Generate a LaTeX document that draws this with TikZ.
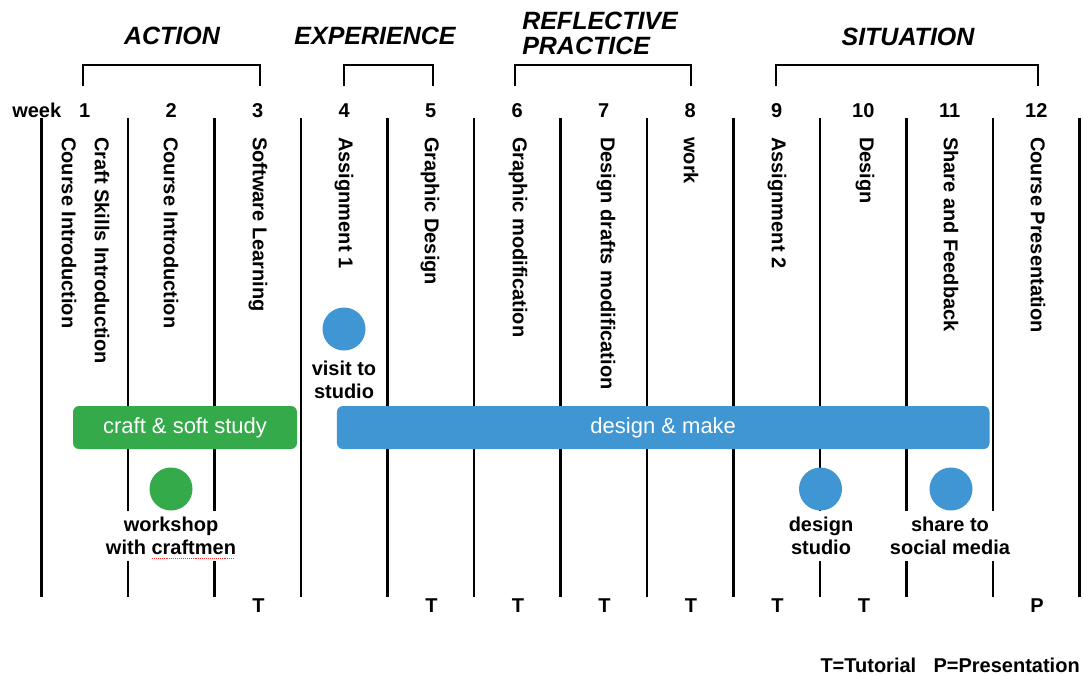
\documentclass[tikz,border=0pt]{standalone}
\usepackage{fontspec}
\setmainfont{Liberation Sans}
\usetikzlibrary{decorations.pathmorphing}
\definecolor{planblue}{HTML}{3F96D3}
\definecolor{plangreen}{HTML}{35AA4A}

\begin{document}
\begin{tikzpicture}[x=0.75pt,y=-0.75pt,
  gridline/.style={line width=1.9pt, black},
  bracket/.style={line width=1.6pt, black},
  phase/.style={font=\fontsize{18.75}{21}\selectfont\bfseries\itshape, inner sep=0},
  wk/.style={font=\fontsize{15}{17}\selectfont\bfseries, inner sep=0},
  topic/.style={font=\fontsize{15}{17}\selectfont\bfseries, rotate=-90, anchor=west, inner sep=0},
  bar/.style={rounded corners=4.5pt, inner sep=0, text=white,
    font=\fontsize{16.5}{18}\selectfont, minimum height=32.25pt},
  event/.style={circle, inner sep=0, minimum size=32.25pt},
  evlabel/.style={fill=white, align=center, inner xsep=2pt, inner ysep=4.6pt,
    font=\fontsize{15}{17.25}\selectfont\bfseries},
  tpmark/.style={font=\fontsize{15}{17}\selectfont\bfseries, inner sep=0}
]
\useasboundingbox (0,0) rectangle (1083,675);

% week grid
\foreach \k in {0,...,12}
  \draw[gridline] (41.5+86.5*\k,118) -- (41.5+86.5*\k,597);

% phase headings and brackets
\node[phase] (action) at (172,36) {ACTION};
\node[phase] (experience) at (375,36) {EXPERIENCE};
\node[phase, anchor=west, align=left] (reflective) at (522,33.5)
  {REFLECTIVE\\[-2.5pt]PRACTICE};
\node[phase] (situation) at (908,37) {SITUATION};

\draw[bracket] (83,86) -- (83,65) -- (260,65) -- (260,86);
\draw[bracket] (344,86) -- (344,65) -- (433,65) -- (433,86);
\draw[bracket] (515,86) -- (515,65) -- (691,65) -- (691,86);
\draw[bracket] (776,86) -- (776,65) -- (1038,65) -- (1038,86);

% week numbers
\node[wk, anchor=base west] (week) at (12,117) {week};
\foreach \k in {1,...,12}
  \node[wk, anchor=base] (w\k) at (84.75+86.5*\k-86.5,117) {\k};

% weekly topics
\node[topic] (t1a) at (69,137) {Course Introduction};
\node[topic] (t1b) at (102,137) {Craft Skills Introduction};
\node[topic] (t2) at (171,137) {Course Introduction};
\node[topic] (t3) at (258,137) {Software Learning};
\node[topic] (t4) at (344,137) {Assignment 1};
\node[topic] (t5) at (430,137) {Graphic Design};
\node[topic] (t6) at (518,137) {Graphic modification};
\node[topic] (t7) at (606,137) {Design drafts modification};
\node[topic] (t8) at (691,137) {work};
\node[topic] (t9) at (777,137) {Assignment 2};
\node[topic] (t10) at (865,137) {Design};
\node[topic] (t11) at (951,137) {Share and Feedback};
\node[topic] (t12) at (1038,137) {Course Presentation};

% activity bars
\node[bar, fill=plangreen, minimum width=168pt] (craft) at (185,427.5) {craft \& soft study};
\node[bar, fill=planblue, minimum width=489.4pt] (make) at (663.25,427.5) {design \& make};

% events
\node[event, fill=planblue] (visit) at (344,329) {};
\node[evlabel] (visitlbl) at (344,380) {visit to\\studio};

\node[event, fill=plangreen] (shop) at (171,489) {};
\node[evlabel] (shoplbl) at (171,536) {workshop\\with craftmen};
% spell-check squiggle under "craftmen"
\draw[red!80, line width=0.45pt, densely dotted]
  (152,558) -- (235,558);

\node[event, fill=planblue] (studio) at (820.5,489) {};
\node[evlabel] (studiolbl) at (821,536) {design\\studio};

\node[event, fill=planblue] (share) at (951,489) {};
\node[evlabel] (sharelbl) at (950,536) {share to\\social media};

% tutorial / presentation marks
\foreach \k/\m in {3/T,5/T,6/T,7/T,8/T,9/T,10/T,12/P}
  \node[tpmark] (m\k) at (85.5+86.5*\k-86.5,605.5) {\m};

\node[tpmark, anchor=east] (legend) at (1080,665)
  {T=Tutorial\hspace{13pt}P=Presentation};
\end{tikzpicture}
\end{document}
